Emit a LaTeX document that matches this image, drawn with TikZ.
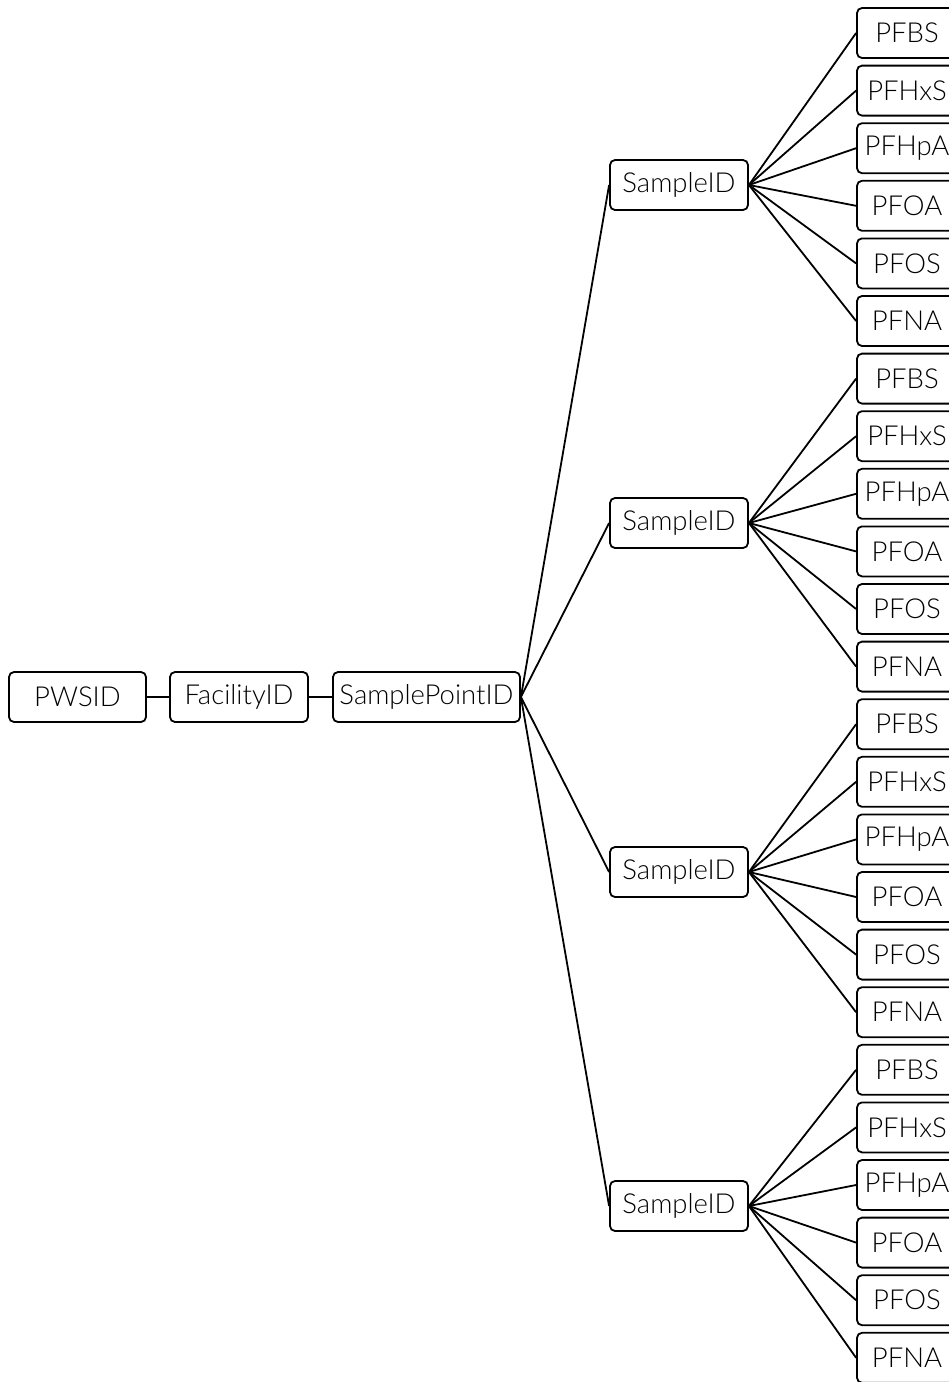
\documentclass[tikz,border=0pt]{standalone}
\usepackage{fontspec}
\setmainfont{Lato Light}
\begin{document}
\begin{tikzpicture}[x=1pt,y=-1pt,
  box/.style={draw, line width=1.8pt, rounded corners=5pt, minimum height=50pt, inner sep=0pt, font=\fontsize{27.5}{30}\selectfont},
  conn/.style={line width=1.8pt}]
\useasboundingbox (0,0) rectangle (949,1382);
\clip (0,0) rectangle (949,1382);
\node[box, minimum width=137pt] (pwsid) at (77.5,697) {PWSID};
\node[box, minimum width=138pt] (fac) at (239,697) {FacilityID};
\node[box, minimum width=187pt] (spid) at (426.5,697) {SamplePointID};
\draw[conn] (pwsid.east) -- (fac.west);
\draw[conn] (fac.east) -- (spid.west);
\foreach \g/\yy in {1/185,2/523,3/872,4/1206}{
  \node[box, minimum width=138pt] (s\g) at (679,\yy) {SampleID};
  \draw[conn] (spid.east) -- (s\g.west);
  \foreach \l/\name in {1/PFBS,2/PFHxS,3/PFHpA,4/PFOA,5/PFOS,6/PFNA}{
    \pgfmathsetmacro{\ly}{33+((\g-1)*6+\l-1)*57.6}
    \node[box, minimum width=100pt] (l\g\l) at (907,\ly) {\name};
    \draw[conn] (s\g.east) -- (l\g\l.west);
  }
}
\end{tikzpicture}
\end{document}
